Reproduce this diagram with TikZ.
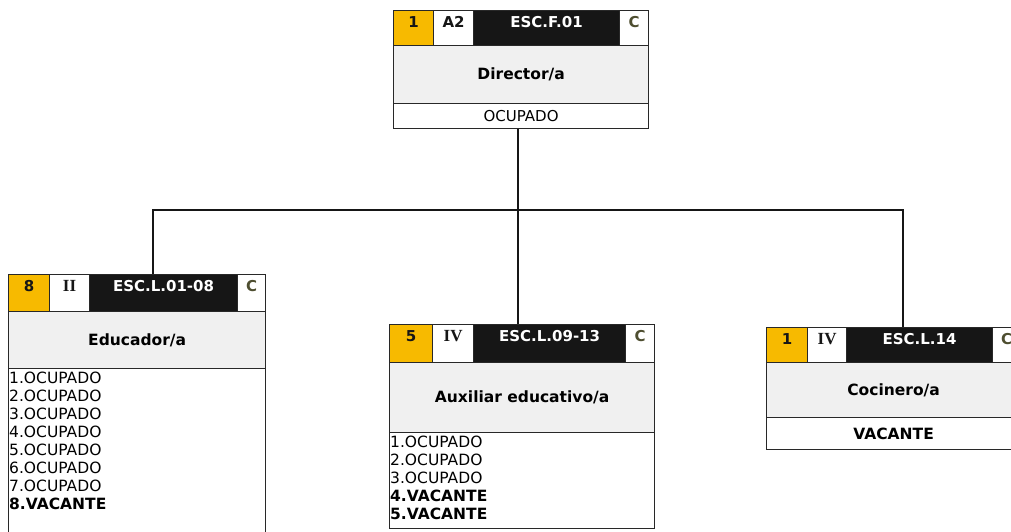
\documentclass[tikz,border=0pt]{standalone}
\usepackage{fontspec}
\setmainfont{DejaVu Sans}
\newfontfamily\romfont{Liberation Serif}
\definecolor{gold}{RGB}{247,186,0}
\definecolor{ink}{RGB}{22,22,22}
\definecolor{paper}{RGB}{240,240,240}
\definecolor{edge}{RGB}{40,40,40}
\definecolor{olive}{RGB}{78,78,48}
\begin{document}
\begin{tikzpicture}[x=1pt,y=-1pt,
  cell/.style={draw=edge, line width=1.2pt, inner sep=0pt, anchor=north west,
    text height=17pt, font=\bfseries\fontsize{15}{15}\selectfont},
  numcell/.style={cell, fill=gold, text=ink},
  grpcell/.style={cell, fill=white, text=ink},
  romcell/.style={grpcell, font=\romfont\bfseries\fontsize{17}{17}\selectfont},
  codecell/.style={cell, fill=ink, text=white},
  ccell/.style={cell, fill=white, text=olive},
  titlebox/.style={draw=edge, line width=1.2pt, inner sep=0pt, anchor=north west,
    fill=paper, font=\bfseries\fontsize{15.5}{15.5}\selectfont},
  statebox/.style={draw=edge, line width=1.2pt, inner sep=0pt, anchor=north west,
    fill=white, font=\fontsize{15}{15}\selectfont},
  listbox/.style={draw=edge, line width=1.2pt, inner sep=0pt, anchor=north west, fill=white},
  listtext/.style={inner sep=0pt, anchor=north west, align=left,
    font=\fontsize{15.5}{18}\selectfont},
  conn/.style={draw=ink, line width=1.3pt}
]
\useasboundingbox (0,0) rectangle (1011,531);
\clip (0,0) rectangle (1011,531);
\fill[white] (0,0) rectangle (1011,531);

% Director/a
\node[numcell, minimum width=40, minimum height=35, text depth=18pt] (dirA) at (393,10) {1};
\node[grpcell, minimum width=40, minimum height=35, text depth=18pt] (dirB) at (433,10) {A2};
\node[codecell, minimum width=146, minimum height=35, text depth=18pt] (dirC) at (473,10) {ESC.F.01};
\node[ccell, minimum width=29, minimum height=35, text depth=18pt] (dirD) at (619,10) {C};
\node[titlebox, minimum width=255, minimum height=58] (dirT) at (393,45) {Director/a};
\node[statebox, minimum width=255, minimum height=25] (dirS) at (393,103) {OCUPADO};

% Educador/a
\node[numcell, minimum width=41, minimum height=37, text depth=20pt] (eduA) at (8,274) {8};
\node[romcell, minimum width=40, minimum height=37, text depth=20pt] (eduB) at (49,274) {II};
\node[codecell, minimum width=148, minimum height=37, text depth=20pt] (eduC) at (89,274) {ESC.L.01-08};
\node[ccell, minimum width=28, minimum height=37, text depth=20pt] (eduD) at (237,274) {C};
\node[titlebox, minimum width=257, minimum height=57] (eduT) at (8,311) {Educador/a};
\node[listbox, minimum width=257, minimum height=200] (eduL) at (8,368) {};
\node[listtext] (eduX) at ([shift={(1,3.5)}]eduL.north west)
  {1.OCUPADO\\2.OCUPADO\\3.OCUPADO\\4.OCUPADO\\5.OCUPADO\\6.OCUPADO\\7.OCUPADO\\\textbf{8.VACANTE}};

% Auxiliar educativo/a
\node[numcell, minimum width=43, minimum height=38, text depth=21pt] (auxA) at (389,324) {5};
\node[romcell, minimum width=41, minimum height=38, text depth=21pt] (auxB) at (432,324) {IV};
\node[codecell, minimum width=152, minimum height=38, text depth=21pt] (auxC) at (473,324) {ESC.L.09-13};
\node[ccell, minimum width=29, minimum height=38, text depth=21pt] (auxD) at (625,324) {C};
\node[titlebox, minimum width=265, minimum height=70] (auxT) at (389,362) {Auxiliar educativo/a};
\node[listbox, minimum width=265, minimum height=96] (auxL) at (389,432) {};
\node[listtext] (auxX) at ([shift={(1,3.5)}]auxL.north west)
  {1.OCUPADO\\2.OCUPADO\\3.OCUPADO\\\textbf{4.VACANTE}\\\textbf{5.VACANTE}};

% Cocinero/a
\node[numcell, minimum width=41, minimum height=35, text depth=18pt] (cocA) at (766,327) {1};
\node[romcell, minimum width=39, minimum height=35, text depth=18pt] (cocB) at (807,327) {IV};
\node[codecell, minimum width=146, minimum height=35, text depth=18pt] (cocC) at (846,327) {ESC.L.14};
\node[ccell, minimum width=28, minimum height=35, text depth=18pt] (cocD) at (992,327) {C};
\node[titlebox, minimum width=254, minimum height=55] (cocT) at (766,362) {Cocinero/a};
\node[statebox, minimum width=254, minimum height=32, font=\bfseries\fontsize{15.5}{15.5}\selectfont] (cocS) at (766,417) {VACANTE};

% connectors
\coordinate (busM) at (518,210);
\coordinate (busL) at (153,210);
\coordinate (busR) at (903,210);
\draw[conn] (busM |- dirS.south) -- (busM |- auxC.north);
\draw[conn] (busL |- eduC.north) -- (busL) -- (busR) -- (busR |- cocC.north);
\end{tikzpicture}
\end{document}
